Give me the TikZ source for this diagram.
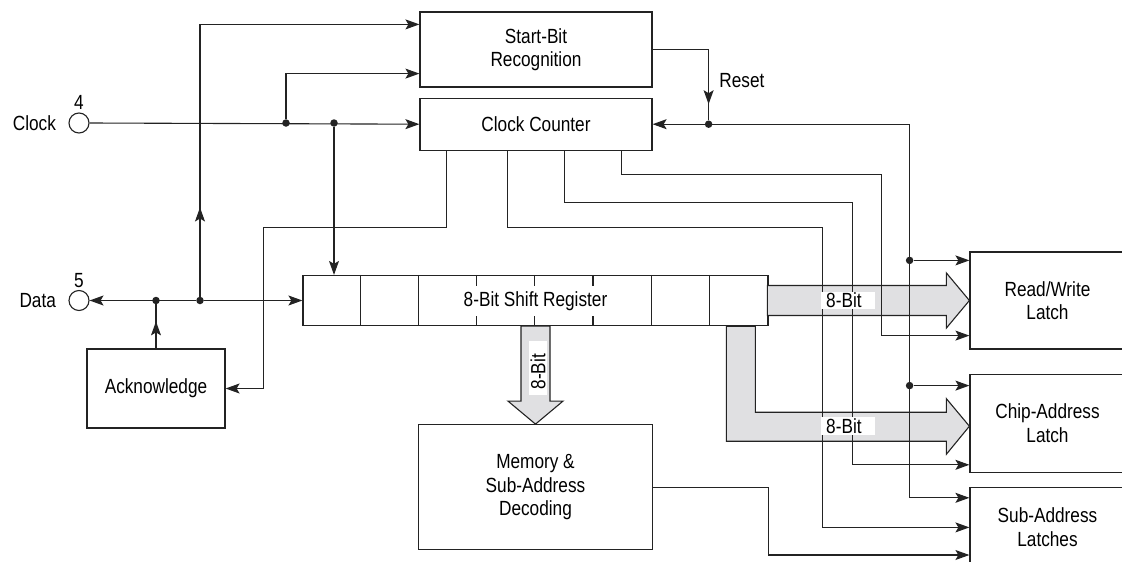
\documentclass[tikz,border=0pt]{standalone}
\usepackage{fontspec}
\setmainfont{Liberation Sans}[FakeStretch=0.84]
\usetikzlibrary{arrows.meta,positioning,calc}
\definecolor{ink}{HTML}{232323}
\definecolor{busgray}{HTML}{E0E0E2}
\newcommand{\diagfont}{\fontsize{20.5}{23.5}\selectfont}

\begin{document}
\begin{tikzpicture}[
    x=1pt, y=-1pt,
    node distance=10pt and 20pt,
    block/.style={rectangle, draw=ink, line width=1.2pt, align=center, font=\diagfont, inner sep=2pt},
    pinport/.style={circle, draw=ink, line width=1.1pt, minimum size=20pt, inner sep=0pt},
    dot/.style={circle, fill=ink, inner sep=0pt, minimum size=7.5pt},
    wire/.style={draw=ink, line width=1.1pt},
    arrow/.style={wire, -{Stealth[length=14pt, width=10pt, inset=3pt]}},
    bus/.style={draw=ink, line width=1.1pt, fill=busgray},
    buslabel/.style={fill=white, font=\diagfont, inner xsep=5pt, inner ysep=1.5pt, text width=44pt, text height=14.5pt, text depth=0pt}
]
\useasboundingbox (0,0) rectangle (1122,562);
\clip (0,0) rectangle (1122,562);

% blocks
\node[block, minimum width=232pt, minimum height=75pt] (sbr) at (536,49.5) {Start-Bit\\Recognition};
\node[block, minimum width=232pt, minimum height=52pt, below=10pt of sbr] (cc) {Clock Counter};
\node[block, minimum width=465pt, minimum height=50pt] (sr) at (535.5,300.5) {};
\node[block, minimum width=234pt, minimum height=125pt, below=98pt of sr] (mem) {Memory \&\\Sub-Address\\Decoding};
\node[block, minimum width=138pt, minimum height=79pt] (ack) at (156,388.5) {Acknowledge};
\node[block, minimum width=155pt, minimum height=97pt] (rw) at (1047.5,300.5) {Read/Write\\Latch};
\node[block, minimum width=155pt, minimum height=98pt, below=24pt of rw] (cal) {Chip-Address\\Latch};
\node[block, minimum width=155pt, minimum height=80pt, below=14pt of cal] (sal) {Sub-Address\\Latches};

% shift register cells
\foreach \i in {1,...,7}
  \draw[wire] ($(sr.north west)+(\i*58.125,0)$) -- ($(sr.south west)+(\i*58.125,0)$);
\node[fill=white, font=\diagfont, inner xsep=2pt, inner ysep=5.5pt, text height=15pt, text depth=4pt] (srlbl) at (sr.center) {8-Bit Shift Register};

% pins
\node[pinport] (clk) at (79,123) {};
\node[pinport] (dat) at (79,300.5) {};
\node[font=\diagfont, left=9pt of clk] (clklbl) {Clock};
\node[font=\diagfont, above=-1pt of clk] (clknum) {4};
\node[font=\diagfont, left=9pt of dat] (datlbl) {Data};
\node[font=\diagfont, above=-1pt of dat] (datnum) {5};

% 8-bit buses
\draw[bus] (mem.north) -- ++(27.5,-23) -- ++(-13,0) -- ++(0,-75) -- ++(-29,0) -- ++(0,75) -- ++(-13,0) -- cycle;
\draw[bus] (rw.west) -- ++(-23,-27.5) -- ++(0,12.5) -- ++(-179,0) -- ++(0,30) -- ++(179,0) -- ++(0,12.5) -- cycle;
\draw[bus] ($(cal.west)+(0,3)$) -- ++(-23,-27.5) -- ++(0,13.5) -- ++(-191,0) -- ++(0,-86) -- ++(-29,0) -- ++(0,115) -- ++(220,0) -- ++(0,13) -- cycle;

% junctions
\node[dot] (ck1) at (286,123) {};
\node[dot] (ck2) at (334,123) {};
\node[dot] (dt1) at (ack.north |- dat) {};
\node[dot] (dt2) at (200,300.5) {};
\node[dot] (rst) at ($(cc.east)+(56,0)$) {};
\coordinate (rtop) at ($(cc.east)+(257,0)$);
\coordinate (rwtop) at ($(rw.north west)+(0,9)$);
\coordinate (caltop) at ($(cal.north west)+(0,12)$);
\node[dot] (rs1) at (rtop |- rwtop) {};
\node[dot] (rs2) at (rtop |- caltop) {};

% clock
\draw[arrow] (clk.east) -- (cc.west);
\draw[arrow] (ck1) |- ($(sbr.south west)+(0,-14)$);
\draw[arrow] (ck2) -- (ck2 |- sr.north);

% data
\draw[arrow] (dt2) -- (dat.east);
\draw[arrow] (dt2) -- (sr.west);
\draw[arrow] (dt2) -- ++(0,-93);
\draw[arrow] (dt2) |- ($(sbr.north west)+(0,13)$);
\draw[arrow] (ack.north) -- ++(0,-27);
\draw[wire] (ack.north) -- (dt1);

% reset
\draw[arrow] (sbr.east) -| ($(rst)+(0,-20)$);
\draw[wire] (sbr.east) -| (rst) node[pos=0.72, right=7pt, font=\diagfont] (rstlbl) {Reset};
\draw[arrow] (rtop) -- (cc.east);
\draw[arrow] (rtop) |- ($(sal.north west)+(0,11)$);
\draw[arrow] (rs1) -- (rwtop);
\draw[arrow] (rs2) -- (caltop);

% counter outputs
\draw[arrow] ($(cc.south west)+(27,0)$) |- ++(-183,77) |- (ack.east);
\draw[arrow] ($(cc.south west)+(88,0)$) |- ++(315,77) |- (sal.west);
\draw[arrow] ($(cc.south west)+(145,0)$) |- ++(288,52) |- ($(cal.south west)+(0,-8)$);
\draw[arrow] ($(cc.south west)+(202,0)$) |- ++(260,24) |- ($(rw.south west)+(0,-14)$);

% decoder
\draw[arrow] (mem.east) -- ++(115,0) |- ($(sal.south west)+(0,-13)$);

% bus labels
\node[buslabel, left=94pt of rw.west] (bus1lbl) {8-Bit};
\node[buslabel, left=94pt of cal.west, yshift=-3pt] (bus2lbl) {8-Bit};
\node[buslabel, rotate=90] (bus3lbl) at (538,367.5) {8-Bit};
\end{tikzpicture}
\end{document}
